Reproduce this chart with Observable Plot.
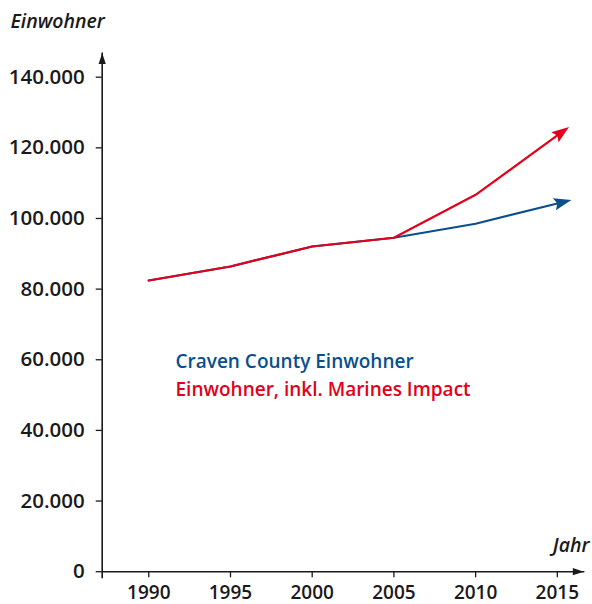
<!DOCTYPE html>
<html><head><meta charset="utf-8">
<script src="https://cdn.jsdelivr.net/npm/d3@7"></script>
<script src="https://cdn.jsdelivr.net/npm/@observablehq/plot@0.6"></script>
<style>html,body{margin:0;padding:0;background:#fff}</style>
</head><body><div id="chart"></div>
<script>
const years = [1990, 1995, 2000, 2005, 2010, 2015];
const craven = [82450, 86410, 92070, 94540, 98500, 104250];
const marines = [82450, 86410, 92070, 94540, 106710, 123500];
const yTicks = [0, 20000, 40000, 60000, 80000, 100000, 120000, 140000];
const xTicks = [1990, 1995, 2000, 2005, 2010, 2015];
const xDomain = [1987.15, 2016.62];
const yDomain = [-1730, 146850];
const seriesNames = ["Craven County Einwohner", "Einwohner, inkl. Marines Impact"];
const colors = ["#0a4f8c", "#e2001a"];
const yLabel = "Einwohner";
const xLabel = "Jahr";

const rows = years.map((year, i) => ({year, craven: craven[i], marines: marines[i]}));
const fmt = d3.formatLocale({decimal: ",", thousands: ".", grouping: [3], currency: ["", "€"]}).format(",d");

function makeMarker(path) {
  return (color) => {
    const m = d3.create("svg:marker")
      .attr("viewBox", "-20 -10 40 20")
      .attr("markerWidth", 40).attr("markerHeight", 20)
      .attr("markerUnits", "userSpaceOnUse")
      .attr("refX", 0).attr("refY", 0)
      .attr("orient", "auto")
      .attr("overflow", "visible")
      .attr("fill", color).attr("stroke", "none");
    m.append("path").attr("d", path);
    const n = m.node();
    n.node = () => n;
    return n;
  };
}
const axisArrow = makeMarker("M-11,-3.6L0,0L-11,3.6Z");
const dataArrow = makeMarker("M-3,-6.2L14.5,0L-3,6.2L0,0Z");

const W = 592, H = 604;
const mL = 101.7, mR = 8.7, mT = 52.5, mB = 604 - 577.3;

const chart = Plot.plot({
  width: W, height: H,
  marginLeft: mL, marginRight: mR, marginTop: mT, marginBottom: mB,
  x: {domain: xDomain, label: null},
  y: {domain: yDomain, label: null},
  style: {fontFamily: "'Open Sans', sans-serif", fontSize: "19px", fontWeight: 600, color: "#1a1a1a", background: "#fff"},
  marks: [
    Plot.axisY({ticks: yTicks, tickSize: 6, tickPadding: 11.5, tickFormat: fmt, label: null, strokeWidth: 1.3, fontSize: 20.5}),
    Plot.axisX({ticks: xTicks, tickSize: 0, tickPadding: 7.6, tickFormat: d => String(d), label: null, fontSize: 19}),
    Plot.ruleX(xTicks, {x: d => d, y1: 0, y2: yDomain[0], strokeWidth: 1.3, stroke: "#1a1a1a"}),
    Plot.line([[xDomain[0], 0], [xDomain[1], 0]], {markerEnd: axisArrow, strokeWidth: 1.6, stroke: "#1a1a1a"}),
    Plot.line([[xDomain[0], yDomain[0]], [xDomain[0], yDomain[1]]], {markerEnd: axisArrow, strokeWidth: 1.6, stroke: "#1a1a1a"}),
    Plot.line(rows, {x: "year", y: "craven", stroke: colors[0], strokeWidth: 2.2, markerEnd: dataArrow}),
    Plot.line(rows, {x: "year", y: "marines", stroke: colors[1], strokeWidth: 2.2, markerEnd: dataArrow}),
    Plot.text([seriesNames[0]], {text: d => d, frameAnchor: "top-left", lineAnchor: "middle", textAnchor: "start", dx: 73.3, dy: 308.6, fill: colors[0], fontSize: 19}),
    Plot.text([seriesNames[1]], {text: d => d, frameAnchor: "top-left", lineAnchor: "middle", textAnchor: "start", dx: 73.3, dy: 337.4, fill: colors[1], fontSize: 19}),
    Plot.text([yLabel], {text: d => d, frameAnchor: "top-left", lineAnchor: "middle", textAnchor: "start", dx: 10 - mL, dy: -31.4, fontStyle: "italic", fontSize: 19.5, fill: "#1a1a1a"}),
    Plot.text([xLabel], {text: d => d, frameAnchor: "bottom-right", lineAnchor: "middle", textAnchor: "end", dx: 5.7, dy: -31.8, fontStyle: "italic", fontSize: 19.5, fill: "#1a1a1a"})
  ]
});
document.getElementById("chart").appendChild(chart);
</script>
</body></html>
